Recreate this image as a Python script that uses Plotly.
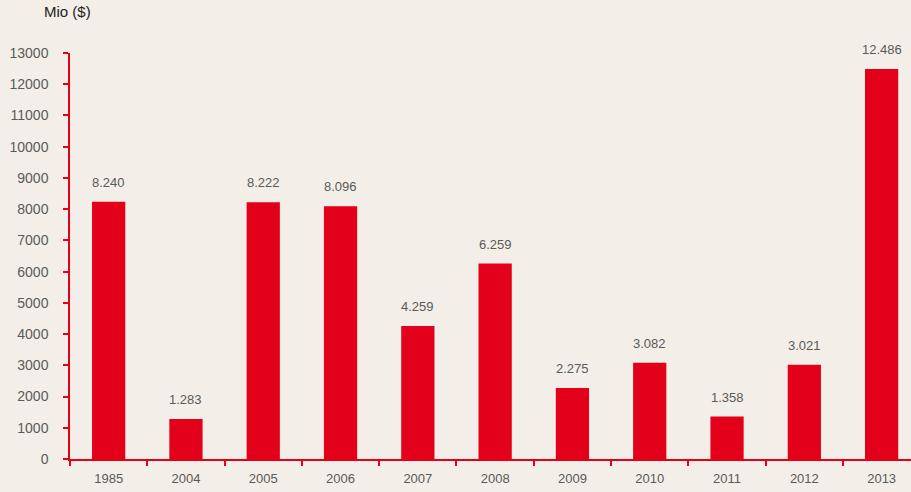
import plotly.graph_objects as go

years = ["1985", "2004", "2005", "2006", "2007", "2008", "2009", "2010", "2011", "2012", "2013"]
values = [8240, 1283, 8222, 8096, 4259, 6259, 2275, 3082, 1358, 3021, 12486]
y_ticks = list(range(0, 13001, 1000))

RED = "#e2001a"
BG = "#f3efe8"
FONT = "Liberation Sans Narrow, Arial Narrow, Liberation Sans, Arial, sans-serif"

fig = go.Figure()
fig.add_trace(go.Bar(x=years, y=values, width=0.43, marker=dict(color=RED, line=dict(width=0)),
                     hoverinfo="skip"))

for i, v in enumerate(values):
    fig.add_annotation(x=i, y=v, text=f"{v:,}".replace(",", "."), showarrow=False,
                       xanchor="center", yanchor="bottom", yshift=10, xref="x", yref="y",
                       font=dict(family=FONT, size=13, color="#5a5a5a"))

fig.add_annotation(x=-0.0024, y=1.101, xref="paper", yref="paper", text="Mio ($)",
                   showarrow=False, xanchor="center", yanchor="middle",
                   font=dict(family=FONT, size=15, color="#222222"))

fig.update_layout(
    width=911, height=492,
    margin=dict(l=70, r=0, t=53, b=33),
    paper_bgcolor=BG, plot_bgcolor=BG,
    showlegend=False,
    xaxis=dict(type="category", range=[-0.5, 10.38], showgrid=False, zeroline=False,
               showline=True, linecolor=RED, linewidth=1.5, ticks="outside",
               tickson="boundaries", ticklen=5, tickcolor=RED, tickwidth=1.5,
               ticklabelstandoff=7,
               tickfont=dict(family=FONT, size=13, color="#5a5a5a"), fixedrange=True),
    yaxis=dict(range=[0, 13000], tickvals=y_ticks, tickformat="d", showgrid=False,
               zeroline=False, showline=True, linecolor=RED, linewidth=1.5,
               ticks="outside", ticklen=5, tickcolor=RED, tickwidth=1.5,
               ticklabelstandoff=12,
               tickfont=dict(family=FONT, size=14, color="#5a5a5a"), fixedrange=True),
)

fig.write_html("out.html", config={"displayModeBar": False},
               post_script="document.body.style.margin='0';document.body.style.overflow='hidden';")
